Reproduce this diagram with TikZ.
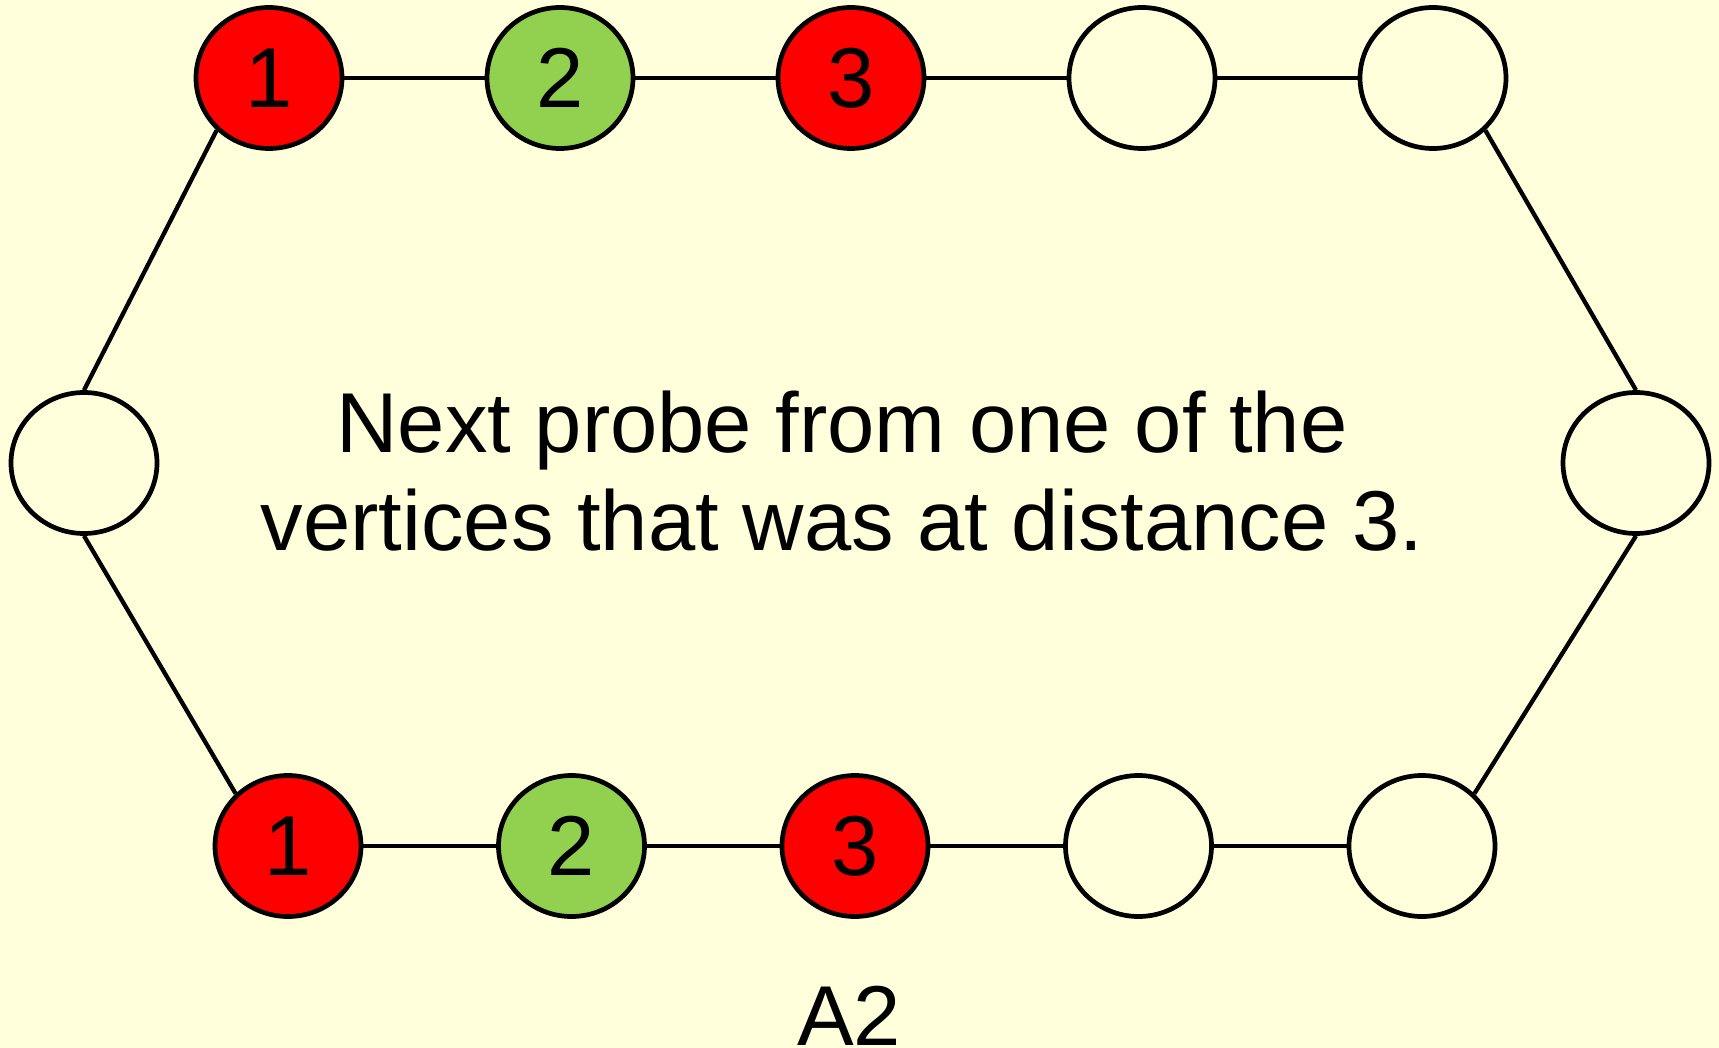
\documentclass[tikz,border=0pt]{standalone}
\usepackage{fontspec}
\setmainfont{Liberation Sans}
\usetikzlibrary{shapes.geometric}
\definecolor{bg}{HTML}{FFFFDC}
\definecolor{vred}{HTML}{FF0000}
\definecolor{vgreen}{HTML}{92D050}
\begin{document}
\begin{tikzpicture}[x=1pt,y=-1pt,
  vtx/.style={ellipse, draw=black, line width=4.7pt, fill=bg, minimum width=146pt, minimum height=141pt, inner sep=0pt, font=\fontsize{85}{100}\selectfont},
  redv/.style={vtx, fill=vred},
  greenv/.style={vtx, fill=vgreen},
  edge/.style={draw=black, line width=4.3pt},
  lbl/.style={anchor=base, inner sep=0pt, font=\fontsize{85}{100}\selectfont}]
\fill[bg] (0,0) rectangle (1719,1048);
\useasboundingbox (0,0) rectangle (1719,1048);
% top row
\node[redv] (t1) at (269,78) {\raisebox{-2.5pt}{1}};
\node[greenv] (t2) at (560,78) {\raisebox{-2.5pt}{2}};
\node[redv] (t3) at (851,78) {\raisebox{-2.5pt}{3}};
\node[vtx] (t4) at (1142,78) {};
\node[vtx] (t5) at (1433,78) {};
% sides
\node[vtx] (l) at (84,463) {};
\node[vtx] (r) at (1636,463) {};
% bottom row
\node[redv] (b1) at (288,846) {\raisebox{-2pt}{1}};
\node[greenv] (b2) at (571.5,846) {\raisebox{-2pt}{2}};
\node[redv] (b3) at (855,846) {\raisebox{-2pt}{3}};
\node[vtx] (b4) at (1138.5,846) {};
\node[vtx] (b5) at (1422,846) {};
% edges
\draw[edge] (t1) -- (t2);
\draw[edge] (t2) -- (t3);
\draw[edge] (t3) -- (t4);
\draw[edge] (t4) -- (t5);
\draw[edge] (b1) -- (b2);
\draw[edge] (b2) -- (b3);
\draw[edge] (b3) -- (b4);
\draw[edge] (b4) -- (b5);
\draw[edge] (l.north) -- (t1.-135);
\draw[edge] (l.south) -- (b1.135);
\draw[edge] (t5.-45) -- (r.north);
\draw[edge] (r.south) -- (b5.45);
% texts
\node[lbl] (txt1) at (842,453) {Next probe from one of the};
\node[lbl] (txt2) at (842,550) {vertices that was at distance 3.};
\node[lbl] (cap) at (849,1045) {A2};
\end{tikzpicture}
\end{document}
